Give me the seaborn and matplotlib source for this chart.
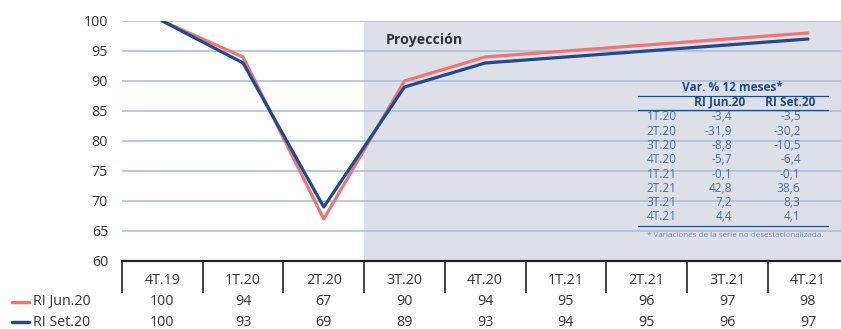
import matplotlib
matplotlib.use("Agg")
import matplotlib.pyplot as plt
from matplotlib.lines import Line2D
import seaborn as sns
import pandas as pd

# Quarterly index values (4T.19 = 100)
trimestres = ["4T.19", "1T.20", "2T.20", "3T.20", "4T.20", "1T.21", "2T.21", "3T.21", "4T.21"]
ri_jun20 = [100, 94, 67, 90, 94, 95, 96, 97, 98]
ri_set20 = [100, 93, 69, 89, 93, 94, 95, 96, 97]
series = ["RI Jun.20", "RI Set.20"]

# Year-on-year change table
var_trim = ["1T.20", "2T.20", "3T.20", "4T.20", "1T.21", "2T.21", "3T.21", "4T.21"]
var_jun = ["-3,4", "-31,9", "-8,8", "-5,7", "-0,1", "42,8", "7,2", "4,4"]
var_set = ["-3,5", "-30,2", "-10,5", "-6,4", "-0,1", "38,6", "8,3", "4,1"]

ROJO = "#f07472"
AZUL = "#1d4b91"
GRIS = "#333333"
TXT_TABLA = "#4d6fa6"
CAB_TABLA = "#1f4d8c"
FS = 10.3
FS_TABLA = 8.6

df = pd.DataFrame({
    "trimestre": trimestres * 2,
    "valor": ri_jun20 + ri_set20,
    "serie": [series[0]] * len(trimestres) + [series[1]] * len(trimestres),
})

sns.set_style("white")
plt.rcParams["font.family"] = ["Open Sans", "DejaVu Sans"]

W, H = 841, 329
fig = plt.figure(figsize=(W / 100, H / 100), dpi=100)
ax = fig.add_axes([122 / W, 1 - 261 / H, (W - 122) / W, 240 / H])

# Projection shading
ax.axvspan(2.5, 8.5, color="#dde1e7", zorder=0.2, lw=0)

sns.lineplot(data=df, x="trimestre", y="valor", hue="serie", sort=False,
             palette={series[0]: ROJO, series[1]: AZUL}, linewidth=2.3,
             legend=False, ax=ax, zorder=3)

ax.set_xlim(-0.5, -0.5 + (W - 122) / 80.7)
ax.set_ylim(60, 100)
ax.set_yticks(range(60, 101, 5))
ax.set_axisbelow(True)
ax.yaxis.grid(True, color="#a7badb", lw=1.1)
ax.xaxis.grid(False)
for s in ["top", "left", "right"]:
    ax.spines[s].set_visible(False)
ax.spines["bottom"].set_color("#222222")
ax.spines["bottom"].set_linewidth(1.6)
ax.tick_params(axis="y", length=0, pad=10, labelsize=FS, labelcolor=GRIS)
ax.tick_params(axis="x", length=0, pad=9, labelsize=FS, labelcolor=GRIS)
ax.set_xlabel("")
ax.set_ylabel("")

# Column separators below the axis
ax.vlines([i - 0.5 for i in range(len(trimestres))], 54.7, 60, color="#222222",
          lw=1.2, clip_on=False)

ax.text(2.77, 96.8, "Proyección", fontsize=FS, fontweight="bold", color=GRIS,
        va="center", ha="left")

# Value rows under the axis
for vals, yv in [(ri_jun20, 53.17), (ri_set20, 49.83)]:
    for i, v in enumerate(vals):
        ax.text(i, yv, str(v), ha="center", va="center", fontsize=FS,
                color=GRIS, clip_on=False)

for name, col, ypx in [(series[0], ROJO, 302), (series[1], AZUL, 322)]:
    yf = 1 - ypx / H
    fig.add_artist(Line2D([12 / W, 29 / W], [yf, yf], color=col, lw=2.5))
    fig.text(33 / W, yf, name, ha="left", va="center", fontsize=FS, color=GRIS)

# Inset table of year-on-year changes
x0, x1 = 5.89, 8.25
ax.text(7.07, 88.9, "Var. % 12 meses*", ha="center", va="center", fontsize=FS_TABLA,
        fontweight="bold", color=CAB_TABLA)
ax.plot([x0, x1], [87.55, 87.55], color=CAB_TABLA, lw=0.9, zorder=4)
ax.text(6.90, 86.45, series[0], ha="center", va="center", fontsize=FS_TABLA,
        fontweight="bold", color=CAB_TABLA)
ax.text(7.78, 86.45, series[1], ha="center", va="center", fontsize=FS_TABLA,
        fontweight="bold", color=CAB_TABLA)
ax.plot([x0, x1], [85.2, 85.2], color=CAB_TABLA, lw=0.9, zorder=4)
for k, (t, a, b) in enumerate(zip(var_trim, var_jun, var_set)):
    yv = 84.0 - k * 2.38
    ax.text(6.0, yv, t, ha="left", va="center", fontsize=FS_TABLA, color=TXT_TABLA)
    ax.text(7.06, yv, a, ha="right", va="center", fontsize=FS_TABLA, color=TXT_TABLA)
    ax.text(7.91, yv, b, ha="right", va="center", fontsize=FS_TABLA, color=TXT_TABLA)
ax.plot([x0, x1], [65.85, 65.85], color=CAB_TABLA, lw=0.9, zorder=4)
ax.text(6.0, 64.2, "* Variaciones de la serie no desestacionalizada.", ha="left",
        va="center", fontsize=5.8, color="#6f86ad")

fig.savefig("out.png", dpi=100)
